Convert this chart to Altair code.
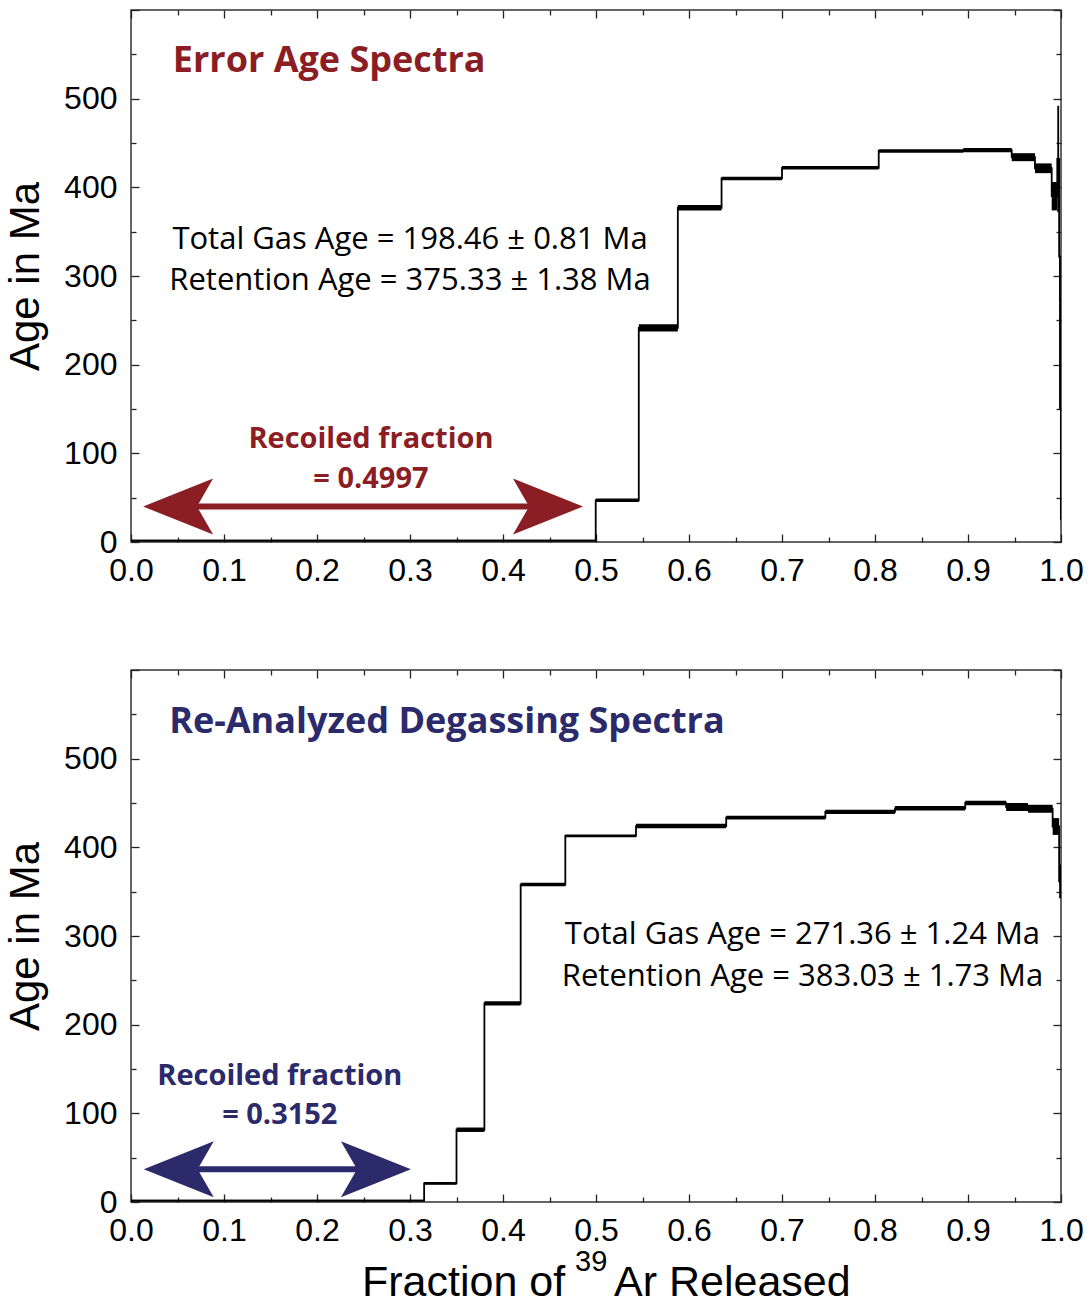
import altair as alt
import pandas as pd

# ---------------- data ----------------
# Upper panel: "Error Age Spectra"
top_start = [0.0, 0.4997, 0.546, 0.588, 0.635, 0.700, 0.804, 0.895, 0.947, 0.972, 0.990, 0.996, 0.998, 0.9989]
top_age = [1.5, 47, 241.5, 377, 410, 422, 441, 442, 434, 421.5, 390, 432, 322, 150]
top_err = [1.0, 2, 4, 3, 2, 2, 2, 2.5, 4.5, 5.5, 16, 60, 50, 125]

# Lower panel: "Re-Analyzed Degassing Spectra"
bot_start = [0.0, 0.3152, 0.350, 0.380, 0.419, 0.467, 0.543, 0.640, 0.7466, 0.8215, 0.897, 0.941, 0.9645, 0.991, 0.998]
bot_age = [1.5, 21, 81.5, 224, 358, 413, 424, 433.5, 440, 444, 450, 445.5, 443.5, 423.5, 361.5]
bot_err = [1.0, 1.5, 2.5, 2.5, 2, 1.5, 2.5, 2, 2.5, 2.5, 2.5, 4.5, 4.5, 9.5, 19]

x_major = [0.0, 0.1, 0.2, 0.3, 0.4, 0.5, 0.6, 0.7, 0.8, 0.9, 1.0]
x_minor = [0.05, 0.15, 0.25, 0.35, 0.45, 0.55, 0.65, 0.75, 0.85, 0.95]
y_major = [0, 100, 200, 300, 400, 500, 600]
y_minor = [50, 150, 250, 350, 450, 550]
y_labels = [0, 100, 200, 300, 400, 500]

top_title = "Error Age Spectra"
bot_title = "Re-Analyzed Degassing Spectra"
top_info = ["Total Gas Age = 198.46 \u00b1 0.81 Ma", "Retention Age = 375.33 \u00b1 1.38 Ma"]
bot_info = ["Total Gas Age = 271.36 \u00b1 1.24 Ma", "Retention Age = 383.03 \u00b1 1.73 Ma"]
top_recoil = ["Recoiled fraction", "= 0.4997"]
bot_recoil = ["Recoiled fraction", "= 0.3152"]

# ---------------- styling ----------------
RED = "#8B1E24"
NAVY = "#2B2A6A"
AX_FONT = "Liberation Sans"
TX_FONT = "Open Sans"
W, H = 930, 532

xs = alt.Scale(domain=[0, 1], nice=False, zero=False)
ys = alt.Scale(domain=[0, 600], nice=False, zero=False)

LEFT_HEAD = "M 0 0 L 2 -0.8 L 1.54 0 L 2 0.8 Z"
RIGHT_HEAD = "M 0 0 L -2 -0.8 L -1.54 0 L -2 0.8 Z"


def tick_axis(values, orient, offset, size):
    return alt.Axis(values=values, orient=orient, offset=offset, tickSize=size,
                    labels=False, domain=False, grid=False, title=None,
                    ticks=True, tickColor="#222", tickWidth=1.3, minExtent=0)


def panel(start, age, err, title, color, info, info_pos, recoil, recoil_pos,
          arrow, title_pos, xtitle=False):
    steps = pd.DataFrame({"x0": start, "x1": start[1:] + [1.0], "age": age, "err": err})
    steps["lo"] = steps["age"] - steps["err"]
    steps["hi"] = steps["age"] + steps["err"]
    line_df = pd.DataFrame({"x": start + [1.0], "age": age + [age[-1]]})

    xlab = alt.Axis(values=x_major, format=".1f", ticks=False, domain=False, grid=False,
                    title=None, labelFont=AX_FONT, labelFontSize=32, labelColor="black",
                    labelPadding=13, labelFlush=False, labelOverlap=False)
    ylab = alt.Axis(values=y_labels, format="d", ticks=False, domain=False, grid=False,
                    title="Age in Ma", titleFont=AX_FONT, titleFontSize=42,
                    titleFontWeight="normal", titleColor="black", titlePadding=16,
                    labelFont=AX_FONT, labelFontSize=32, labelColor="black",
                    labelPadding=14, labelFlush=False, labelOverlap=False)

    rects = alt.Chart(steps).mark_rect(color="black").encode(
        x=alt.X("x0:Q", scale=xs, axis=tick_axis(x_major, "top", -H, 8)),
        x2="x1:Q",
        y=alt.Y("lo:Q", scale=ys, axis=tick_axis(y_major, "right", -W, 8)),
        y2="hi:Q",
    )
    line = alt.Chart(line_df).mark_line(interpolate="step-after", color="black",
                                        strokeWidth=1.8).encode(
        x=alt.X("x:Q", scale=xs, axis=xlab),
        y=alt.Y("age:Q", scale=ys, axis=ylab),
    )

    tipL, tipR, ya = arrow
    shaft = pd.DataFrame({"x0": [tipL + 0.04], "x1": [tipR - 0.04], "y": [ya]})
    rule = alt.Chart(shaft).mark_rule(color=color, strokeWidth=6).encode(
        x=alt.X("x0:Q", scale=xs, axis=tick_axis(x_minor, "top", -H, 5)),
        x2="x1:Q",
        y=alt.Y("y:Q", scale=ys, axis=tick_axis(y_minor, "right", -W, 5)),
    )
    headL = alt.Chart(pd.DataFrame({"x": [tipL], "y": [ya]})).mark_point(
        shape=LEFT_HEAD, size=4900, filled=True, color=color, opacity=1, strokeWidth=0
    ).encode(
        x=alt.X("x:Q", scale=xs, axis=tick_axis(x_major, "bottom", -H, 8)),
        y=alt.Y("y:Q", scale=ys, axis=tick_axis(y_major, "left", -W, 8)),
    )
    headR = alt.Chart(pd.DataFrame({"x": [tipR], "y": [ya]})).mark_point(
        shape=RIGHT_HEAD, size=4900, filled=True, color=color, opacity=1, strokeWidth=0
    ).encode(
        x=alt.X("x:Q", scale=xs, axis=tick_axis(x_minor, "bottom", -H, 5)),
        y=alt.Y("y:Q", scale=ys, axis=tick_axis(y_minor, "left", -W, 5)),
    )

    title_df = pd.DataFrame({"x": [title_pos[0]], "y": [title_pos[1]], "t": [title]})
    title_mark = alt.Chart(title_df).mark_text(
        align="left", baseline="alphabetic", font=TX_FONT, fontWeight="bold",
        fontSize=36, color=color
    ).encode(x=alt.X("x:Q", scale=xs, axis=None), y=alt.Y("y:Q", scale=ys, axis=None), text="t:N")

    info_df = pd.DataFrame({"x": [info_pos[0]] * 2, "y": [info_pos[1], info_pos[2]], "t": info})
    info_mark = alt.Chart(info_df).mark_text(
        align="center", baseline="alphabetic", font=TX_FONT, fontSize=31, color="black"
    ).encode(x=alt.X("x:Q", scale=xs, axis=None), y=alt.Y("y:Q", scale=ys, axis=None), text="t:N")

    rec_df = pd.DataFrame({"x": [recoil_pos[0]] * 2, "y": [recoil_pos[1], recoil_pos[2]], "t": recoil})
    rec_mark = alt.Chart(rec_df).mark_text(
        align="center", baseline="alphabetic", font=TX_FONT, fontWeight="bold",
        fontSize=29, color=color
    ).encode(x=alt.X("x:Q", scale=xs, axis=None), y=alt.Y("y:Q", scale=ys, axis=None), text="t:N")

    layers = [rects, line, rule, headL, headR, title_mark, info_mark, rec_mark]

    if xtitle:
        base = alt.Chart(pd.DataFrame({"a": [0]}))
        t1 = base.mark_text(align="left", baseline="alphabetic", font=AX_FONT, fontSize=43,
                            color="black", text="Fraction of").encode(
            x=alt.value(231), y=alt.value(H + 94))
        t2 = base.mark_text(align="left", baseline="alphabetic", font=AX_FONT, fontSize=29,
                            color="black", text="39").encode(
            x=alt.value(444), y=alt.value(H + 69))
        t3 = base.mark_text(align="left", baseline="alphabetic", font=AX_FONT, fontSize=43,
                            color="black", text="Ar Released").encode(
            x=alt.value(483), y=alt.value(H + 94))
        layers += [t1, t2, t3]

    return alt.layer(*layers).resolve_axis(x="independent", y="independent").properties(
        width=W, height=H)


top = panel(top_start, top_age, top_err, top_title, RED,
            top_info, (0.30, 331, 284), top_recoil, (0.258, 106, 61),
            (0.013, 0.486, 40), (0.045, 530))
bottom = panel(bot_start, bot_age, bot_err, bot_title, NAVY,
               bot_info, (0.722, 291, 244), bot_recoil, (0.160, 132, 88),
               (0.0137, 0.301, 37), (0.041, 529), xtitle=True)

chart = alt.vconcat(top, bottom, spacing=81).properties(
    padding={"left": 3, "top": 8, "right": 5, "bottom": 0}
).configure_view(stroke="#333", strokeWidth=1.5)

chart.save("out.html", embed_options={"renderer": "svg", "actions": False})
